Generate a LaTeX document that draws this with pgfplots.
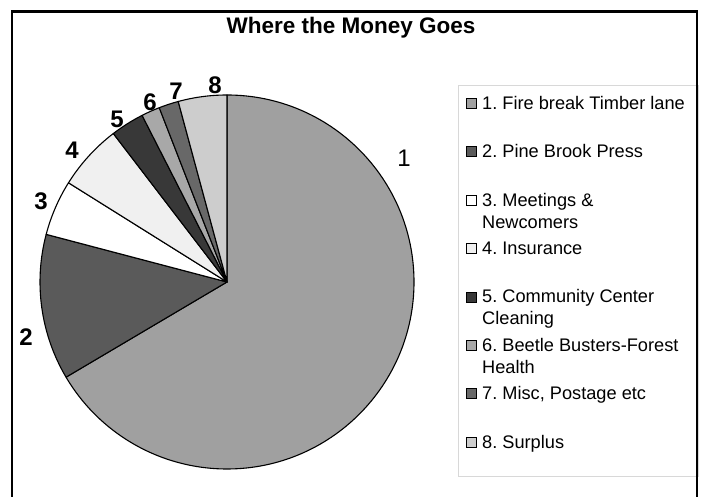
\documentclass[border=0pt]{standalone}
\usepackage{pgfplots}
\pgfplotsset{compat=1.18}
\usepackage{pgfplotstable}
\usepackage{fontspec}
\setmainfont{Liberation Sans}
\frenchspacing
\definecolor{slice0}{HTML}{A0A0A0}
\definecolor{slice1}{HTML}{5A5A5A}
\definecolor{slice2}{HTML}{FFFFFF}
\definecolor{slice3}{HTML}{F0F0F0}
\definecolor{slice4}{HTML}{383838}
\definecolor{slice5}{HTML}{A8A8A8}
\definecolor{slice6}{HTML}{686868}
\definecolor{slice7}{HTML}{CDCDCD}
\definecolor{legframe}{HTML}{D8D8D8}
\pgfplotstableread{
id value
1 66.5
2 12.6
3 4.8
4 5.7
5 2.9
6 1.6
7 1.7
8 4.2
}\piedata
\newcommand{\legtext}[1]{\parbox[t][35pt][t]{208pt}{#1}}
\begin{document}
\begin{tikzpicture}
\begin{axis}[
  x=1pt, y=1pt, xmin=0, xmax=702, ymin=0, ymax=497,
  anchor=origin, at={(0pt,0pt)},
  hide axis, clip=false,
  legend image code/.code={\draw[#1] (0pt,1pt) rectangle (10pt,11pt);},
  legend style={at={(axis cs:458,412)}, anchor=north west,
    draw=legframe, line width=0.8pt, fill=white,
    inner xsep=8pt, inner ysep=8.6pt, row sep=13.4pt, column sep=5pt,
    cells={anchor=base west},
    nodes={inner sep=0pt, text depth=, line width=0.8pt},
    font=\fontsize{18.2}{22}\selectfont},
]
\def\angstart{90}
\pgfplotsforeachungrouped \i in {0,...,7}{%
  \pgfplotstablegetelem{\i}{value}\of\piedata
  \pgfmathsetmacro\angend{\angstart-\pgfplotsretval*3.6}%
  \edef\cmd{\noexpand\filldraw[fill=slice\i, draw=black, line width=1.1pt, line join=round] (axis cs:227,215) -- ++(\angstart:187pt) arc[start angle=\angstart, end angle=\angend, radius=187pt] -- cycle;}%
  \cmd
  \global\let\angstart\angend
}
\addlegendimage{fill=slice0, draw=black, line width=0.8pt}
\addlegendentry{\legtext{\strut 1. Fire break Timber lane}}
\addlegendimage{fill=slice1, draw=black, line width=0.8pt}
\addlegendentry{\legtext{\strut 2. Pine Brook Press}}
\addlegendimage{fill=slice2, draw=black, line width=0.8pt}
\addlegendentry{\legtext{\strut 3. Meetings \&\\\strut Newcomers}}
\addlegendimage{fill=slice3, draw=black, line width=0.8pt}
\addlegendentry{\legtext{\strut 4. Insurance}}
\addlegendimage{fill=slice4, draw=black, line width=0.8pt}
\addlegendentry{\legtext{\strut 5. Community Center\\\strut Cleaning}}
\addlegendimage{fill=slice5, draw=black, line width=0.8pt}
\addlegendentry{\legtext{\strut 6. Beetle Busters-Forest\\\strut Health}}
\addlegendimage{fill=slice6, draw=black, line width=0.8pt}
\addlegendentry{\legtext{\strut 7. Misc, Postage etc}}
\addlegendimage{fill=slice7, draw=black, line width=0.8pt}
\addlegendentry{\legtext{\strut 8. Surplus}}
\node[font=\bfseries\fontsize{22.5}{26}\selectfont, anchor=base] at (axis cs:351,463) {Where the Money Goes};
\node[font=\fontsize{24}{24}\selectfont] at (axis cs:404,338.7) {1};
\node[font=\bfseries\fontsize{24}{24}\selectfont] at (axis cs:26,160) {2};
\node[font=\bfseries\fontsize{24}{24}\selectfont] at (axis cs:41,296) {3};
\node[font=\bfseries\fontsize{24}{24}\selectfont] at (axis cs:72,347) {4};
\node[font=\bfseries\fontsize{24}{24}\selectfont] at (axis cs:117,378) {5};
\node[font=\bfseries\fontsize{24}{24}\selectfont] at (axis cs:150,395) {6};
\node[font=\bfseries\fontsize{24}{24}\selectfont] at (axis cs:176,406) {7};
\node[font=\bfseries\fontsize{24}{24}\selectfont] at (axis cs:215,412) {8};
\end{axis}
\draw[line width=2.5pt] (12pt,-20pt) -- (12pt,485.5pt) -- (697pt,485.5pt) -- (697pt,-20pt);
\pgfresetboundingbox
\path[use as bounding box] (0pt,0pt) rectangle (702pt,497pt);
\end{tikzpicture}
\end{document}
